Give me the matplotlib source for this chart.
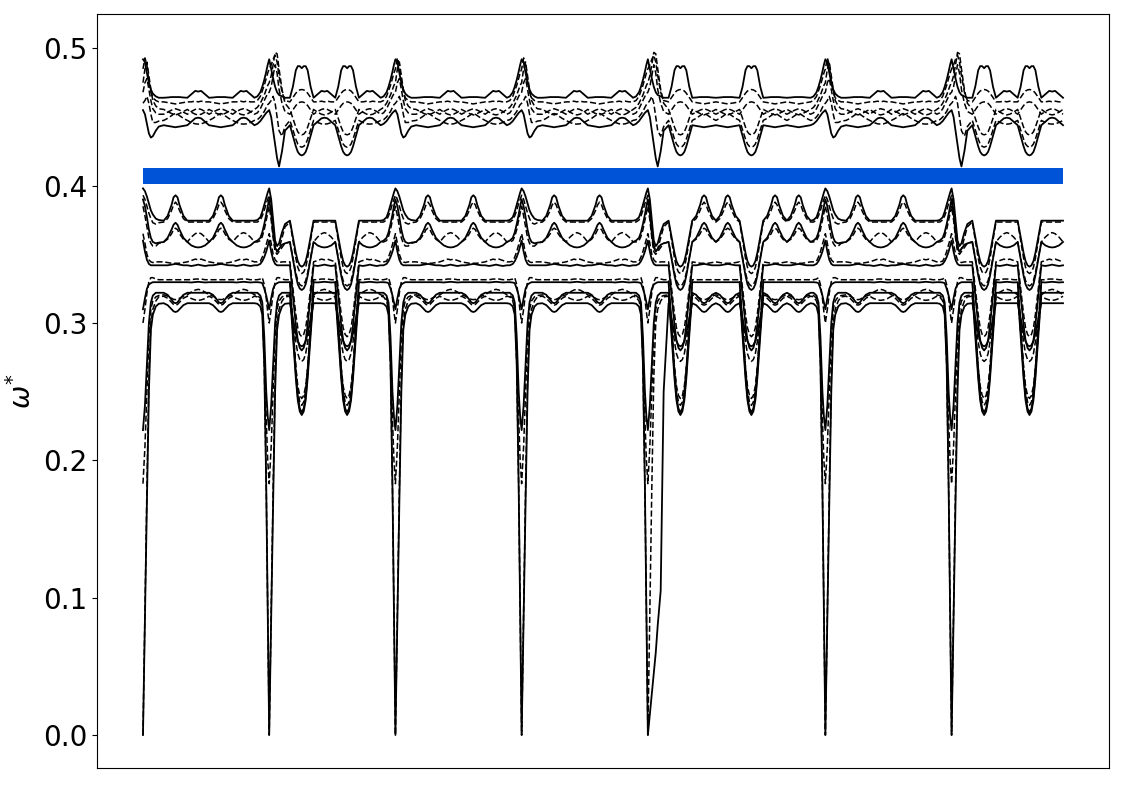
import matplotlib
matplotlib.use("Agg")
import matplotlib.pyplot as plt

# ---------------- data ----------------
# Each band is described piece by piece; a segment of the path between two
# symmetry points is a sequence of pieces.  Rows: 12 lower bands, 6 upper.

START_A_X = [0, 2, 4, 6, 8, 10, 13, 16, 21]
START_A_LOWER = [
    [0.0, 0.085, 0.17, 0.25, 0.295, 0.306, 0.312, 0.314, 0.3144],
    [0.0, 0.09, 0.18, 0.26, 0.30, 0.31, 0.316, 0.319, 0.3195],
    [0.183, 0.21, 0.25, 0.29, 0.31, 0.316, 0.319, 0.320, 0.3205],
    [0.222, 0.24, 0.27, 0.30, 0.315, 0.32, 0.322, 0.322, 0.322],
    [0.30, 0.31, 0.322, 0.33, 0.333, 0.333, 0.332, 0.3315, 0.3315],
    [0.31, 0.318, 0.325, 0.328, 0.329, 0.3297, 0.3297, 0.3297, 0.3297],
    [0.36, 0.352, 0.346, 0.343, 0.342, 0.342, 0.342, 0.342, 0.342],
    [0.365, 0.358, 0.35, 0.346, 0.3445, 0.344, 0.3445, 0.3445, 0.3445],
    [0.39, 0.385, 0.377, 0.368, 0.362, 0.359, 0.358, 0.3585, 0.359],
    [0.385, 0.378, 0.37, 0.362, 0.358, 0.356, 0.356, 0.358, 0.359],
    [0.393, 0.39, 0.385, 0.38, 0.376, 0.373, 0.372, 0.373, 0.3735],
    [0.398, 0.396, 0.392, 0.387, 0.382, 0.379, 0.376, 0.375, 0.3745],
]
START_A_UPPER = [
    [0.455, 0.452, 0.445, 0.438, 0.435, 0.436, 0.44, 0.443, 0.444],
    [0.46, 0.462, 0.465, 0.46, 0.452, 0.446, 0.446, 0.447, 0.4475],
    [0.468, 0.475, 0.478, 0.47, 0.462, 0.456, 0.453, 0.452, 0.452],
    [0.475, 0.485, 0.49, 0.48, 0.47, 0.462, 0.458, 0.456, 0.4555],
    [0.485, 0.493, 0.488, 0.476, 0.468, 0.464, 0.462, 0.461, 0.461],
    [0.492, 0.49, 0.482, 0.475, 0.47, 0.467, 0.465, 0.464, 0.464],
]

START_B_X = [0, 2, 4, 6, 8, 10, 13, 16, 21]
START_B_LOWER = [
    [0.0, 0.085, 0.17, 0.25, 0.295, 0.306, 0.312, 0.314, 0.3144],
    [0.0, 0.09, 0.18, 0.26, 0.30, 0.31, 0.316, 0.319, 0.3195],
    [0.183, 0.21, 0.25, 0.29, 0.31, 0.316, 0.319, 0.320, 0.3205],
    [0.222, 0.24, 0.27, 0.30, 0.315, 0.32, 0.322, 0.322, 0.322],
    [0.30, 0.31, 0.322, 0.33, 0.333, 0.333, 0.332, 0.3315, 0.3315],
    [0.31, 0.318, 0.325, 0.328, 0.329, 0.3297, 0.3297, 0.3297, 0.3297],
    [0.36, 0.352, 0.346, 0.343, 0.342, 0.342, 0.342, 0.342, 0.342],
    [0.365, 0.358, 0.35, 0.346, 0.3445, 0.344, 0.3445, 0.3445, 0.3445],
    [0.39, 0.38, 0.365, 0.355, 0.352, 0.354, 0.357, 0.358, 0.359],
    [0.385, 0.375, 0.362, 0.352, 0.35, 0.352, 0.355, 0.358, 0.359],
    [0.393, 0.385, 0.37, 0.357, 0.352, 0.354, 0.362, 0.370, 0.3735],
    [0.398, 0.39, 0.375, 0.36, 0.356, 0.358, 0.366, 0.372, 0.3745],
]
START_B_UPPER = [
    [0.455, 0.45, 0.44, 0.43, 0.42, 0.414, 0.425, 0.44, 0.444],
    [0.46, 0.462, 0.465, 0.46, 0.45, 0.44, 0.436, 0.443, 0.4475],
    [0.468, 0.472, 0.48, 0.488, 0.482, 0.47, 0.46, 0.454, 0.452],
    [0.475, 0.48, 0.488, 0.497, 0.496, 0.485, 0.47, 0.46, 0.4555],
    [0.485, 0.488, 0.492, 0.495, 0.49, 0.48, 0.468, 0.462, 0.461],
    [0.492, 0.485, 0.478, 0.472, 0.468, 0.466, 0.465, 0.464, 0.464],
]

START_E_X = [0, 2, 4, 6, 8, 10, 13, 16, 21]
START_E_LOWER = [
    [0.0, 0.015, 0.03, 0.045, 0.06, 0.08, 0.105, 0.25, 0.3144],
    [0.0, 0.09, 0.18, 0.26, 0.30, 0.31, 0.316, 0.319, 0.3195],
    [0.183, 0.21, 0.25, 0.29, 0.31, 0.316, 0.319, 0.320, 0.3205],
    [0.222, 0.24, 0.27, 0.30, 0.315, 0.32, 0.322, 0.322, 0.322],
    [0.30, 0.31, 0.322, 0.33, 0.333, 0.333, 0.332, 0.3315, 0.3315],
    [0.31, 0.318, 0.325, 0.328, 0.329, 0.3297, 0.3297, 0.3297, 0.3297],
    [0.36, 0.352, 0.346, 0.343, 0.342, 0.342, 0.342, 0.342, 0.342],
    [0.365, 0.358, 0.35, 0.346, 0.3445, 0.344, 0.3445, 0.3445, 0.3445],
    [0.39, 0.38, 0.365, 0.355, 0.352, 0.354, 0.357, 0.358, 0.359],
    [0.385, 0.375, 0.362, 0.352, 0.35, 0.352, 0.355, 0.358, 0.359],
    [0.393, 0.385, 0.37, 0.357, 0.352, 0.354, 0.362, 0.370, 0.3735],
    [0.398, 0.39, 0.375, 0.36, 0.356, 0.358, 0.366, 0.372, 0.3745],
]
START_E_UPPER = START_B_UPPER

PEAK_X = [0, 4, 8, 10, 12, 14, 16, 20, 24]
PEAK_LOWER = [
    [0.3144, 0.313, 0.310, 0.3085, 0.308, 0.3085, 0.310, 0.313, 0.3144],
    [0.3195, 0.318, 0.315, 0.3135, 0.313, 0.3135, 0.315, 0.318, 0.3195],
    [0.3205, 0.3195, 0.318, 0.3172, 0.317, 0.3172, 0.318, 0.3195, 0.3205],
    [0.322, 0.3205, 0.317, 0.315, 0.3144, 0.315, 0.317, 0.3205, 0.322],
    [0.3315, 0.3315, 0.3315, 0.3315, 0.3315, 0.3315, 0.3315, 0.3315, 0.3315],
    [0.3297, 0.3297, 0.3297, 0.3297, 0.3297, 0.3297, 0.3297, 0.3297, 0.3297],
    [0.342, 0.342, 0.3425, 0.3428, 0.343, 0.3428, 0.3425, 0.342, 0.342],
    [0.3445, 0.344, 0.3435, 0.3435, 0.3435, 0.3435, 0.3435, 0.344, 0.3445],
    [0.359, 0.362, 0.368, 0.3715, 0.373, 0.3715, 0.368, 0.362, 0.359],
    [0.359, 0.361, 0.365, 0.368, 0.369, 0.368, 0.365, 0.361, 0.359],
    [0.3735, 0.376, 0.382, 0.386, 0.388, 0.386, 0.382, 0.376, 0.3735],
    [0.3745, 0.378, 0.386, 0.3915, 0.393, 0.3915, 0.386, 0.378, 0.3745],
]
PEAK_UPPER = [
    [0.444, 0.4435, 0.443, 0.4428, 0.4425, 0.4428, 0.443, 0.4435, 0.444],
    [0.4475, 0.449, 0.451, 0.452, 0.4525, 0.452, 0.451, 0.449, 0.4475],
    [0.452, 0.4535, 0.455, 0.4555, 0.456, 0.4555, 0.455, 0.4535, 0.452],
    [0.4555, 0.454, 0.4525, 0.452, 0.4515, 0.452, 0.4525, 0.454, 0.4555],
    [0.461, 0.4605, 0.460, 0.4598, 0.4595, 0.4598, 0.460, 0.4605, 0.461],
    [0.464, 0.4642, 0.4645, 0.4645, 0.4645, 0.4645, 0.4645, 0.4642, 0.464],
]

FLAT_X = [0, 4, 8, 11, 14, 18, 22]
FLAT_LOWER = [
    [0.3144, 0.3144, 0.3144, 0.3144, 0.3144, 0.3144, 0.3144],
    [0.3195, 0.3178, 0.3168, 0.3165, 0.3168, 0.3178, 0.3195],
    [0.3205, 0.3225, 0.3240, 0.3245, 0.3240, 0.3225, 0.3205],
    [0.322, 0.322, 0.322, 0.322, 0.322, 0.322, 0.322],
    [0.3315, 0.3315, 0.332, 0.332, 0.332, 0.3315, 0.3315],
    [0.3297, 0.3295, 0.3298, 0.330, 0.3298, 0.3295, 0.3297],
    [0.342, 0.3415, 0.342, 0.3425, 0.342, 0.3415, 0.342],
    [0.3445, 0.3455, 0.3465, 0.346, 0.3465, 0.3455, 0.3445],
    [0.359, 0.3565, 0.3553, 0.355, 0.3553, 0.3565, 0.359],
    [0.359, 0.3625, 0.365, 0.3658, 0.365, 0.3625, 0.359],
    [0.3735, 0.3735, 0.3735, 0.3735, 0.3735, 0.3735, 0.3735],
    [0.3745, 0.3745, 0.3745, 0.3745, 0.3745, 0.3745, 0.3745],
]
FLAT_UPPER = [
    [0.444, 0.4465, 0.449, 0.4495, 0.449, 0.4465, 0.444],
    [0.4475, 0.446, 0.445, 0.4448, 0.445, 0.446, 0.4475],
    [0.452, 0.454, 0.4555, 0.456, 0.4555, 0.454, 0.452],
    [0.4555, 0.4535, 0.452, 0.4515, 0.452, 0.4535, 0.4555],
    [0.461, 0.461, 0.4615, 0.461, 0.4615, 0.461, 0.461],
    [0.464, 0.4665, 0.469, 0.4685, 0.469, 0.4665, 0.464],
]

DIP_X = [0, 3, 6, 8, 10, 12, 14, 16, 18, 21, 24]
DIP_LOWER = [
    [0.3144, 0.3034, 0.2924, 0.2868, 0.2839, 0.283, 0.2839, 0.2868, 0.2924, 0.3034, 0.3144],
    [0.3195, 0.3029, 0.2863, 0.2777, 0.2734, 0.272, 0.2734, 0.2777, 0.2863, 0.3029, 0.3195],
    [0.3205, 0.2941, 0.2677, 0.2541, 0.2473, 0.245, 0.2473, 0.2541, 0.2677, 0.2941, 0.3205],
    [0.322, 0.2909, 0.2597, 0.2437, 0.2356, 0.233, 0.2356, 0.2437, 0.2597, 0.2909, 0.322],
    [0.3315, 0.2995, 0.2675, 0.251, 0.2426, 0.240, 0.2426, 0.251, 0.2675, 0.2995, 0.3315],
    [0.3297, 0.2966, 0.2634, 0.2464, 0.2378, 0.235, 0.2378, 0.2464, 0.2634, 0.2966, 0.3297],
    [0.342, 0.3203, 0.2986, 0.2874, 0.2819, 0.280, 0.2819, 0.2874, 0.2986, 0.3203, 0.342],
    [0.3445, 0.3254, 0.3064, 0.2965, 0.2917, 0.290, 0.2917, 0.2965, 0.3064, 0.3254, 0.3445],
    [0.359, 0.3468, 0.3345, 0.3282, 0.3251, 0.324, 0.3251, 0.3282, 0.3345, 0.3468, 0.359],
    [0.359, 0.3478, 0.3366, 0.3308, 0.328, 0.327, 0.328, 0.3308, 0.3366, 0.3478, 0.359],
    [0.3735, 0.3604, 0.3472, 0.3405, 0.3371, 0.336, 0.3371, 0.3405, 0.3472, 0.3604, 0.3735],
    [0.3745, 0.3628, 0.351, 0.345, 0.342, 0.341, 0.342, 0.345, 0.351, 0.3628, 0.3745],
]
DIP_UPPER = [
    [0.444, 0.4363, 0.4286, 0.4246, 0.4227, 0.422, 0.4227, 0.4246, 0.4286, 0.4363, 0.444],
    [0.4475, 0.4407, 0.4339, 0.4303, 0.4286, 0.428, 0.4286, 0.4303, 0.4339, 0.4407, 0.4475],
    [0.452, 0.4552, 0.4583, 0.4599, 0.4607, 0.461, 0.4607, 0.4599, 0.4583, 0.4552, 0.452],
    [0.4555, 0.449, 0.4426, 0.4392, 0.4375, 0.437, 0.4375, 0.4392, 0.4426, 0.449, 0.4555],
    [0.461, 0.4642, 0.4673, 0.4689, 0.4697, 0.470, 0.4697, 0.4689, 0.4673, 0.4642, 0.461],
    [0.464, 0.472, 0.484, 0.487, 0.487, 0.4855, 0.487, 0.487, 0.484, 0.472, 0.464],
]

END_X = [0, 3, 6, 8, 10, 12, 13.5, 15]
END_LOWER = [
    [0.3144, 0.314, 0.312, 0.306, 0.27, 0.18, 0.09, 0.0],
    [0.3195, 0.319, 0.316, 0.31, 0.27, 0.18, 0.09, 0.0],
    [0.3205, 0.320, 0.318, 0.312, 0.28, 0.23, 0.20, 0.183],
    [0.322, 0.322, 0.32, 0.315, 0.29, 0.25, 0.232, 0.222],
    [0.3315, 0.3315, 0.332, 0.333, 0.328, 0.318, 0.308, 0.30],
    [0.3297, 0.3297, 0.3295, 0.329, 0.325, 0.32, 0.315, 0.31],
    [0.342, 0.342, 0.343, 0.345, 0.348, 0.352, 0.356, 0.36],
    [0.3445, 0.3445, 0.345, 0.348, 0.352, 0.357, 0.361, 0.365],
    [0.359, 0.36, 0.362, 0.366, 0.372, 0.379, 0.385, 0.39],
    [0.359, 0.359, 0.36, 0.363, 0.368, 0.375, 0.38, 0.385],
    [0.3735, 0.3735, 0.375, 0.378, 0.382, 0.387, 0.39, 0.393],
    [0.3745, 0.375, 0.377, 0.381, 0.386, 0.391, 0.395, 0.398],
]
END_UPPER = [
    [0.444, 0.445, 0.447, 0.449, 0.451, 0.453, 0.454, 0.455],
    [0.4475, 0.448, 0.45, 0.452, 0.454, 0.457, 0.459, 0.46],
    [0.452, 0.453, 0.456, 0.459, 0.462, 0.465, 0.467, 0.468],
    [0.4555, 0.457, 0.46, 0.463, 0.466, 0.47, 0.473, 0.475],
    [0.461, 0.462, 0.465, 0.469, 0.473, 0.478, 0.482, 0.485],
    [0.464, 0.465, 0.468, 0.472, 0.477, 0.483, 0.488, 0.492],
]

# order of pieces along the path (7 segments between 8 symmetry points)
SEGMENTS = [
    ["start_a", "peak", "flat", "peak", "flat", "end"],
    ["start_b", "dip", "flat", "dip", "flat", "end"],
    ["start_a", "peak", "flat", "peak", "flat", "end"],
    ["start_a", "peak", "flat", "peak", "flat", "end"],
    ["start_e", "dip", "peak", "peak", "dip", "peak", "peak", "end"],
    ["start_a", "peak", "flat", "peak", "flat", "end"],
    ["start_b", "dip", "flat", "dip", "flat"],
]

# line styles for the 18 bands (12 lower, 6 upper)
BAND_STYLES = ["solid", "dashed", "dashed", "solid", "dashed", "solid",
               "solid", "dashed", "solid", "dashed", "dashed", "solid",
               "solid", "dashed", "dashed", "dashed", "dashed", "solid"]

GAP_LOW, GAP_HIGH = 0.401, 0.413
GAP_COLOR = "#0052d6"
Y_TICKS = [0.0, 0.1, 0.2, 0.3, 0.4, 0.5]
Y_LABEL = r"$\omega^{*}$"

PIECES = {
    "start_a": (START_A_X, START_A_LOWER + START_A_UPPER),
    "start_b": (START_B_X, START_B_LOWER + START_B_UPPER),
    "start_e": (START_E_X, START_E_LOWER + START_E_UPPER),
    "peak": (PEAK_X, PEAK_LOWER + PEAK_UPPER),
    "flat": (FLAT_X, FLAT_LOWER + FLAT_UPPER),
    "dip": (DIP_X, DIP_LOWER + DIP_UPPER),
    "end": (END_X, END_LOWER + END_UPPER),
}

# ---------------- assemble path ----------------
n_bands = len(BAND_STYLES)
xs = []
ys = [[] for _ in range(n_bands)]
pos = 0.0
for seg in SEGMENTS:
    for name in seg:
        px, rows = PIECES[name]
        first = 1 if xs else 0
        for i in range(first, len(px)):
            xs.append(pos + px[i])
            for b in range(n_bands):
                ys[b].append(rows[b][i])
        pos += px[-1]

# ---------------- draw ----------------
fig = plt.figure(figsize=(11.25, 7.85), dpi=100)
ax = fig.add_axes([0.0862, 0.0217, 0.8996, 0.9605])

ax.fill_between([xs[0], xs[-1]], GAP_LOW, GAP_HIGH, color=GAP_COLOR,
                linewidth=0, zorder=1)

for b in range(n_bands):
    if BAND_STYLES[b] == "solid":
        ax.plot(xs, ys[b], color="black", linewidth=1.3, linestyle="-",
                zorder=3)
    else:
        ax.plot(xs, ys[b], color="black", linewidth=1.1,
                linestyle=(0, (4.0, 1.8)), zorder=3)

span = xs[-1] - xs[0]
ax.set_xlim(xs[0] - 0.05 * span, xs[-1] + 0.05 * span)
ax.set_ylim(-0.024, 0.525)
ax.set_xticks([])
ax.set_yticks(Y_TICKS)
ax.set_yticklabels([f"{v:.1f}" for v in Y_TICKS])
ax.tick_params(axis="y", labelsize=20)
ax.set_ylabel(Y_LABEL, fontsize=20)

fig.savefig("out.png", dpi=100)
